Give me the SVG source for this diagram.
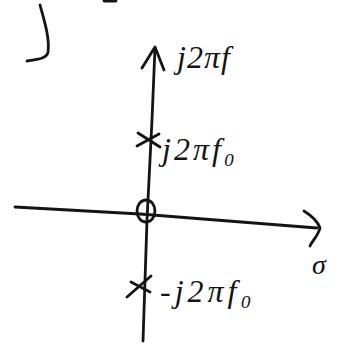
<svg xmlns="http://www.w3.org/2000/svg" width="339" height="343" viewBox="0 0 339 343">
<style>
.s{fill:none;stroke:#141414;stroke-width:2.8;stroke-linecap:round;stroke-linejoin:round}
.t{font-family:"Liberation Serif",serif;font-style:italic;fill:#141414}
</style>
<rect width="339" height="343" fill="#fff"/>
<g id="fragments">
<path class="s" d="M40,5 C44,20 50,38 48,52 C47,58 40,59 27,61"/>
<path class="s" d="M104,1 L116,1"/>
</g>
<g id="connectors">
<g id="imag-axis">
<path class="s" d="M143,341 L147,220 L152,120 L155,48"/>
<path class="s" d="M142,68 L155,47 L164,70"/>
</g>
<g id="real-axis">
<path class="s" d="M15,207 L140,214 L317,228"/>
<path class="s" d="M304,211 C312,216 318,222 320,228 C318,236 312,241 310,246"/>
</g>
</g>
<g id="zero-origin">
<ellipse class="s" cx="146" cy="211" rx="9" ry="11"/>
</g>
<g id="pole-top">
<path class="s" d="M138,133 L160,147 M137,146 L159,134"/>
</g>
<g id="pole-bottom">
<path class="s" d="M127,297 L151,276 M131,282 L150,292"/>
</g>
<g id="labels">
<text class="t" x="177" y="68" font-size="32" letter-spacing="1">j2πf</text>
<text class="t" x="162" y="160" font-size="32" letter-spacing="3">j2πf₀</text>
<text class="t" x="160" y="302" font-size="32" letter-spacing="4">-j2πf₀</text>
<text class="t" x="312" y="274" font-size="28">σ</text>
</g>
</svg>
